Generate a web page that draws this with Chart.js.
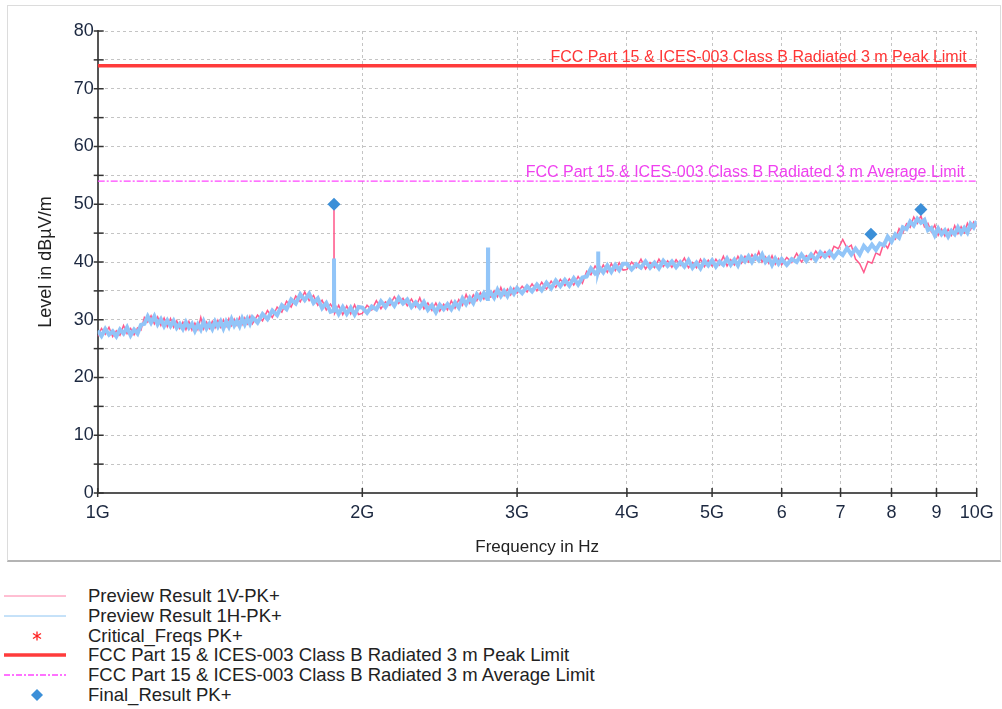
<!DOCTYPE html>
<html>
<head>
<meta charset="utf-8">
<style>
    body { margin: 0; background: #fff; font-family: "Liberation Sans", Arial, sans-serif; }
    /* 차트 외곽 테두리 */
    #frame { position: absolute; left: 7px; top: 5px; width: 992px; height: 554px;
             border: 1px solid #dcdcdc; border-bottom: 2px solid #b4b4b4; }
    #chart_id { position: absolute; left: 0; top: 0; }
    #legend { position: absolute; left: 0; top: 586px; font-size: 18.5px; color: #222; }
    .row { position: relative; width: 700px; height: 19.8px; line-height: 19.8px; }
    .row svg { position: absolute; left: 0; top: 0; }
    .row span { position: absolute; left: 88px; white-space: nowrap; }
</style>
</head>
<body>
    <div id="frame"></div>
    <canvas id="chart_id" width="1002" height="566"></canvas>

    <!-- 범례 (차트 아래) -->
    <div id="legend">
        <div class="row"><svg width="80" height="20"><line x1="4" y1="10" x2="66" y2="10" stroke="#ff7fa6" stroke-width="1"/></svg><span>Preview Result 1V-PK+</span></div>
        <div class="row"><svg width="80" height="20"><line x1="4" y1="10" x2="66" y2="10" stroke="#8cc4f2" stroke-width="1"/></svg><span>Preview Result 1H-PK+</span></div>
        <div class="row"><svg width="80" height="20"><g stroke="#ff2020" stroke-width="1.3"><line x1="37" y1="5.5" x2="37" y2="14.5"/><line x1="33" y1="7.5" x2="41" y2="12.5"/><line x1="33" y1="12.5" x2="41" y2="7.5"/></g></svg><span>Critical_Freqs PK+</span></div>
        <div class="row"><svg width="80" height="20"><line x1="4" y1="10" x2="66" y2="10" stroke="#ff3b3b" stroke-width="3.5"/></svg><span>FCC Part 15 &amp; ICES-003 Class B Radiated 3 m Peak Limit</span></div>
        <div class="row"><svg width="80" height="20"><line x1="4" y1="10" x2="66" y2="10" stroke="#ff44ff" stroke-width="1.5" stroke-dasharray="6,2,2,2"/></svg><span>FCC Part 15 &amp; ICES-003 Class B Radiated 3 m Average Limit</span></div>
        <div class="row"><svg width="80" height="20"><polygon points="37,4 43,10 37,16 31,10" fill="#3b8fd8"/></svg><span>Final_Result PK+</span></div>
    </div>

    <script src="https://cdn.jsdelivr.net/npm/chart.js"></script>
    <script>
        // 측정 데이터 : 주파수(GHz) / 레벨(dBµV/m)
        const freqGHz = [
            // 1.00 - 1.49
            1.00,1.01,1.02,1.03,1.04,1.05,1.06,1.07,1.08,1.09,
            1.10,1.11,1.12,1.13,1.14,1.15,1.16,1.17,1.18,1.19,
            1.20,1.21,1.22,1.23,1.24,1.25,1.26,1.27,1.28,1.29,
            1.30,1.31,1.32,1.33,1.34,1.35,1.36,1.37,1.38,1.39,
            1.40,1.41,1.42,1.43,1.44,1.45,1.46,1.47,1.48,1.49,
            // 1.50 - 1.98
            1.50,1.52,1.54,1.56,1.58,1.60,1.62,1.64,1.66,1.68,
            1.70,1.72,1.74,1.76,1.78,1.80,1.82,1.84,1.856,1.857,
            1.858,1.86,1.88,1.90,1.92,1.94,1.96,1.98,
            // 2.000 - 2.975
            2.000,2.025,2.050,2.075,2.100,2.125,2.150,2.175,2.200,2.225,
            2.250,2.275,2.300,2.325,2.350,2.375,2.400,2.425,2.450,2.475,
            2.500,2.525,2.550,2.575,2.600,2.625,2.650,2.675,2.700,2.725,
            2.750,2.775,2.779,2.780,2.781,2.800,2.825,2.850,2.875,2.900,
            2.925,2.950,2.975,
            // 3.00 - 3.96
            3.00,3.04,3.08,3.12,3.16,3.20,3.24,3.28,3.32,3.36,
            3.40,3.44,3.48,3.52,3.56,3.60,3.64,3.68,3.709,3.710,
            3.711,3.72,3.76,3.80,3.84,3.88,3.92,3.96,
            // 4.00 - 5.95
            4.00,4.05,4.10,4.15,4.20,4.25,4.30,4.35,4.40,4.45,
            4.50,4.55,4.60,4.65,4.70,4.75,4.80,4.85,4.90,4.95,
            5.00,5.05,5.10,5.15,5.20,5.25,5.30,5.35,5.40,5.45,
            5.50,5.55,5.60,5.65,5.70,5.75,5.80,5.85,5.90,5.95,
            // 6.00 - 10.00
            6.00,6.08,6.16,6.24,6.32,6.40,6.48,6.56,6.64,6.72,
            6.80,6.88,6.96,7.04,7.12,7.20,7.28,7.36,7.44,7.52,
            7.60,7.68,7.76,7.84,7.92,8.00,8.08,8.16,8.24,8.32,
            8.40,8.48,8.56,8.64,8.72,8.80,8.88,8.96,9.04,9.12,
            9.20,9.28,9.36,9.44,9.52,9.60,9.68,9.76,9.84,9.92,
            10.00
        ];
        const preview1V = [
            27.1,28.5,27.5,28.7,27.1,28.1,27.3,29.0,27.6,28.5,
            27.4,28.6,28.2,30.4,29.6,30.7,29.3,30.5,29.0,30.3,
            28.8,30.2,28.7,29.8,28.5,29.6,28.3,29.7,28.2,29.4,
            28.3,30.4,28.4,29.6,28.5,29.7,28.6,29.9,28.7,30.0,
            28.9,30.2,29.0,30.1,29.1,30.4,29.2,30.3,29.3,30.6,
            29.3,30.8,29.8,31.6,30.4,32.2,31.3,33.2,32.2,34.1,
            33.1,34.8,33.3,34.2,32.5,33.4,31.7,32.7,31.8,50.0,
            31.8,31.1,32.5,30.9,32.4,31.0,32.6,30.9,
            31.1,32.5,31.7,33.3,31.9,33.1,32.5,34.0,32.8,33.7,
            32.4,33.6,32.2,33.8,31.9,32.9,31.6,32.9,31.5,32.7,
            31.7,33.3,32.0,33.5,32.5,34.4,32.9,34.3,33.3,34.7,
            33.6,34.9,34.0,42.4,34.0,33.9,35.0,34.0,35.6,34.2,
            35.3,34.3,35.5,
            34.6,35.8,34.8,36.2,35.0,36.5,35.3,36.7,35.6,37.0,
            35.9,37.1,36.0,37.5,36.3,38.4,37.8,39.3,38.6,41.5,
            38.6,38.1,39.5,38.2,39.7,38.5,39.9,38.6,
            38.7,40.0,39.0,40.5,38.8,39.9,39.0,40.5,39.2,40.2,
            39.1,40.4,39.4,40.7,39.0,39.9,39.0,40.5,39.2,40.3,
            39.3,40.5,39.5,41.0,39.3,40.4,39.5,41.0,39.8,41.0,
            40.0,41.3,40.4,41.8,40.0,40.9,39.8,41.1,39.6,40.6,
            39.5,40.8,39.9,41.5,40.0,41.1,40.4,41.9,40.7,41.8,
            40.8,42.7,42.3,43.9,42.4,42.9,40.5,39.7,38.2,40.1,
            39.8,41.6,41.2,43.3,42.4,44.0,43.9,45.8,45.0,46.6,
            46.0,47.8,46.7,48.0,46.1,46.7,45.2,46.4,44.6,45.7,
            44.5,45.7,44.6,46.3,44.9,46.1,45.1,46.7,45.6,46.9,
            46.1
        ];
        const preview1H = [
            28.1,27.2,28.4,27.4,28.0,27.1,28.3,27.6,28.7,27.3,
            28.3,27.6,29.1,29.3,30.6,29.5,30.6,29.2,30.1,28.9,
            29.9,28.9,29.8,28.6,29.3,28.4,29.6,28.6,29.3,28.1,
            29.2,28.3,29.7,28.5,29.3,28.4,29.7,28.8,29.7,28.5,
            29.7,28.8,30.1,29.0,29.8,28.9,30.2,29.2,30.2,29.3,
            30.4,29.5,31.0,30.1,31.6,30.8,32.5,31.8,33.5,32.8,
            34.4,33.4,34.5,32.9,33.7,32.0,32.9,31.4,31.6,40.6,
            31.6,32.4,31.0,32.2,31.0,32.1,30.9,32.2,
            32.1,31.2,32.3,31.8,33.2,32.2,33.4,32.4,33.8,32.8,
            33.5,32.2,33.0,32.1,33.1,31.7,32.5,31.3,32.6,31.8,
            32.7,31.8,33.0,32.1,33.7,32.7,33.8,32.9,34.4,33.6,
            34.6,33.6,34.2,42.5,34.2,34.7,33.8,35.2,34.1,35.0,
            34.1,35.3,34.5,
            35.5,34.6,35.8,34.9,36.1,35.1,36.4,35.4,36.8,35.8,
            36.9,35.9,37.2,36.1,37.3,37.5,38.9,38.0,38.5,41.8,
            38.5,39.1,38.2,39.4,38.3,39.5,38.6,39.7,
            39.7,38.7,39.6,39.0,40.1,39.0,39.9,38.9,40.2,39.3,
            40.1,39.1,40.0,39.2,40.3,39.0,39.9,38.9,40.2,39.4,
            40.3,39.2,40.1,39.5,40.6,39.5,40.4,39.4,40.8,40.1,
            41.0,40.0,41.0,40.3,41.3,40.0,40.7,39.5,40.6,39.7,
            40.5,39.5,40.5,40.0,41.3,40.2,41.3,40.3,41.7,40.9,
            41.8,40.8,41.8,41.2,42.4,41.3,42.3,41.3,42.8,42.0,
            43.0,42.1,43.2,42.9,44.4,43.5,44.8,44.2,46.0,45.7,
            47.0,46.3,47.5,46.8,47.3,45.5,45.9,44.6,45.8,44.8,
            45.5,44.4,45.4,44.8,46.0,45.0,45.9,45.1,46.6,46.0,
            47.1
        ];
        const finalFreqGHz = [1.857, 7.58, 8.64];
        const finalLevel = [50.0, 44.8, 49.1];
        const peakLimit = 74;
        const avgLimit = 54;
        const peakLabel = 'FCC Part 15 & ICES-003 Class B Radiated 3 m Peak Limit';
        const avgLabel = 'FCC Part 15 & ICES-003 Class B Radiated 3 m Average Limit';
        const xTickValues = [1, 2, 3, 4, 5, 6, 7, 8, 9, 10];
        const xTickLabels = ['1G', '2G', '3G', '4G', '5G', '6', '7', '8', '9', '10G'];

        const FONT = '"Liberation Sans", Arial, sans-serif';
        Chart.defaults.font.family = FONT;

        const toXY = (xs, ys) => xs.map((x, i) => ({ x: x, y: ys[i] }));
        const xMin = xTickValues[0], xMax = xTickValues[xTickValues.length - 1];

        // 축 눈금 (축선 양쪽으로 짧게)
        const axisMarks = {
            id: 'axisMarks',
            afterDraw(chart) {
                const { ctx, chartArea: a, scales: { x, y } } = chart;
                ctx.save();
                ctx.strokeStyle = '#333';
                ctx.lineWidth = 1.5;
                x.ticks.forEach(t => {
                    const px = x.getPixelForValue(t.value);
                    ctx.beginPath(); ctx.moveTo(px, a.bottom - 5); ctx.lineTo(px, a.bottom + 4); ctx.stroke();
                });
                y.ticks.forEach(t => {
                    const py = y.getPixelForValue(t.value);
                    ctx.beginPath(); ctx.moveTo(a.left - 4, py); ctx.lineTo(a.left + 6, py); ctx.stroke();
                });
                ctx.restore();
            }
        };

        // 리밋 라인 텍스트
        const limitLabels = {
            id: 'limitLabels',
            afterDatasetsDraw(chart) {
                const { ctx, chartArea: a, scales: { y } } = chart;
                ctx.save();
                ctx.font = '16px ' + FONT;
                ctx.textAlign = 'right';
                ctx.textBaseline = 'alphabetic';
                ctx.fillStyle = '#ff3535';
                ctx.fillText(peakLabel, a.right - 10, y.getPixelForValue(peakLimit) - 4);
                ctx.fillStyle = '#f040f0';
                ctx.fillText(avgLabel, a.right - 12, y.getPixelForValue(avgLimit) - 4);
                ctx.restore();
            }
        };

        const tickFont = { size: 18, family: FONT };
        const gridOpts = { color: '#c4c4c4', lineWidth: 1, drawTicks: false };
        const borderOpts = { color: '#555', width: 2, dash: [3, 3] };

        new Chart(document.getElementById('chart_id'), {
            type: 'line',
            data: {
                datasets: [
                    {
                        label: 'Final_Result PK+',
                        type: 'scatter',
                        data: toXY(finalFreqGHz, finalLevel),
                        pointStyle: 'rectRot',
                        pointRadius: 6.5,
                        backgroundColor: '#3b8fd8',
                        borderColor: '#3b8fd8',
                        borderWidth: 0,
                        order: 0
                    },
                    {
                        label: 'Critical_Freqs PK+',
                        type: 'scatter',
                        data: toXY(finalFreqGHz, finalLevel),
                        pointStyle: 'star',
                        pointRadius: 4,
                        borderColor: '#ff2020',
                        borderWidth: 1,
                        order: 1
                    },
                    {
                        label: peakLabel,
                        data: [{ x: xMin, y: peakLimit }, { x: xMax, y: peakLimit }],
                        borderColor: '#ff3b3b',
                        borderWidth: 3.5,
                        pointRadius: 0,
                        order: 2
                    },
                    {
                        label: avgLabel,
                        data: [{ x: xMin, y: avgLimit }, { x: xMax, y: avgLimit }],
                        borderColor: '#ff44ff',
                        borderWidth: 1.2,
                        borderDash: [7, 2, 2, 2],
                        pointRadius: 0,
                        order: 3
                    },
                    {
                        label: 'Preview Result 1H-PK+',
                        data: toXY(freqGHz, preview1H),
                        borderColor: '#92c5f8',
                        borderWidth: 4,
                        pointRadius: 0,
                        tension: 0,
                        order: 4
                    },
                    {
                        label: 'Preview Result 1V-PK+',
                        data: toXY(freqGHz, preview1V),
                        borderColor: '#ff5a8c',
                        borderWidth: 1.5,
                        pointRadius: 0,
                        tension: 0,
                        order: 5
                    }
                ]
            },
            options: {
                responsive: false,
                animation: false,
                layout: { padding: { left: 0, right: 25.3, top: 31, bottom: 0 } },
                plugins: { legend: { display: false }, tooltip: { enabled: false } },
                scales: {
                    x: {
                        type: 'logarithmic',
                        min: xMin,
                        max: xMax,
                        afterBuildTicks: s => { s.ticks = xTickValues.map(v => ({ value: v })); },
                        afterFit: s => { s.height = 73; s.paddingLeft = 0; s.paddingRight = 0; },
                        ticks: {
                            autoSkip: false, maxRotation: 0, padding: 9,
                            font: tickFont, color: '#1c2840',
                            callback: (v, i) => xTickLabels[i]
                        },
                        grid: gridOpts,
                        border: borderOpts,
                        title: {
                            display: true, text: 'Frequency in Hz', color: '#222',
                            font: { size: 17, family: FONT }, padding: { top: 0, bottom: 8 }
                        }
                    },
                    y: {
                        min: 0,
                        max: 80,
                        afterFit: s => { s.width = 97.7; s.paddingTop = 0; s.paddingBottom = 0; },
                        ticks: {
                            stepSize: 5, padding: 4, font: tickFont, color: '#1c2840',
                            callback: v => (v % 10 === 0 ? v : '')
                        },
                        grid: gridOpts,
                        border: borderOpts,
                        title: {
                            display: true, text: 'Level in dBµV/m', color: '#222',
                            font: { size: 18, family: FONT }, padding: { top: 35, bottom: 0 }
                        }
                    }
                }
            },
            plugins: [axisMarks, limitLabels]
        });
    </script>
</body>
</html>
